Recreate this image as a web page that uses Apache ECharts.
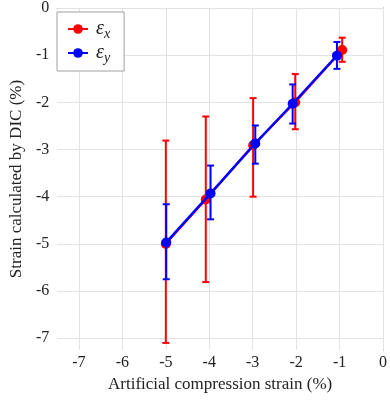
<!DOCTYPE html>
<html>
<head>
<meta charset="utf-8">
<script src="https://cdn.jsdelivr.net/npm/echarts@6/dist/echarts.min.js"></script>
<style>
  html, body { margin: 0; padding: 0; background: #fff; }
  #chart { width: 390px; height: 407px; }
</style>
</head>
<body>
<div id="chart"></div>
<script>
// values
const xTicks = [-7, -6, -5, -4, -3, -2, -1, 0];
const yTicks = [0, -1, -2, -3, -4, -5, -6, -7];

const redX    = [-5.0, -4.08, -2.99, -2.02, -0.94];
const redY    = [-5.0, -4.06, -2.91, -2.0, -0.89];
const redLow  = [-7.10, -5.81, -4.0, -2.57, -1.14];
const redHigh = [-2.81, -2.30, -1.91, -1.40, -0.63];

const blueX    = [-4.99, -3.97, -2.94, -2.08, -1.06];
const blueY    = [-4.97, -3.93, -2.87, -2.03, -1.01];
const blueLow  = [-5.75, -4.48, -3.30, -2.45, -1.29];
const blueHigh = [-4.16, -3.34, -2.49, -1.62, -0.72];

const RED = '#ff0000';
const BLUE = '#0000ff';
const SERIF = '"Liberation Serif", "DejaVu Serif", serif';
const GRID = '#e3e3e3';

function errorBars(xs, lows, highs, color, width, z) {
  return {
    type: 'custom',
    silent: true,
    z,
    data: xs.map((x, i) => [x, lows[i], highs[i]]),
    renderItem(params, api) {
      const lo = api.coord([api.value(0), api.value(1)]);
      const hi = api.coord([api.value(0), api.value(2)]);
      const cap = 3.5;
      const style = { stroke: color, lineWidth: width };
      return {
        type: 'group',
        children: [
          { type: 'line', shape: { x1: lo[0], y1: lo[1], x2: hi[0], y2: hi[1] }, style },
          { type: 'line', shape: { x1: lo[0] - cap, y1: lo[1], x2: lo[0] + cap, y2: lo[1] }, style },
          { type: 'line', shape: { x1: hi[0] - cap, y1: hi[1], x2: hi[0] + cap, y2: hi[1] }, style },
        ],
      };
    },
  };
}

const chart = echarts.init(document.getElementById('chart'));
chart.setOption({
  animation: false,
  backgroundColor: '#fff',
  grid: { left: 48, right: 5, top: 7, bottom: 57 },
  legend: {
    left: 57, top: 12,
    orient: 'vertical',
    padding: [7, 14, 6, 10],
    itemGap: 2,
    itemWidth: 20, itemHeight: 12,
    borderColor: '#a0a0a0', borderWidth: 1,
    backgroundColor: '#fff',
    data: ['x', 'y'],
    formatter: (name) => `{e|ε}{s|${name}}`,
    textStyle: {
      rich: {
        e: { fontFamily: SERIF, fontStyle: 'italic', fontSize: 20, color: '#222', padding: [0, 0, 0, 3], height: 20 },
        s: { fontFamily: SERIF, fontStyle: 'italic', fontSize: 14, color: '#222', verticalAlign: 'bottom', padding: [10, 0, 0, 0] },
      },
    },
  },
  xAxis: {
    type: 'value',
    min: -7.5, max: 0,
    name: 'Artificial compression strain (%)',
    nameLocation: 'middle', nameGap: 24,
    nameTextStyle: { fontFamily: SERIF, fontSize: 17, color: '#222' },
    axisLine: { lineStyle: { color: '#808080', width: 1 } },
    axisTick: { show: false },
    axisLabel: { customValues: xTicks, fontFamily: SERIF, fontSize: 16, color: '#222', margin: 5 },
    splitLine: { show: false },
  },
  yAxis: {
    type: 'value',
    min: -7.25, max: 0,
    name: 'Strain calculated by DIC (%)',
    nameLocation: 'middle', nameGap: 27,
    nameTextStyle: { fontFamily: SERIF, fontSize: 17, color: '#222' },
    axisLine: { show: true, lineStyle: { color: '#808080', width: 1 } },
    axisTick: { show: false },
    axisLabel: { customValues: yTicks, fontFamily: SERIF, fontSize: 16, color: '#222', margin: 8 },
    splitLine: { show: false },
  },
  series: [
    {
      // grid lines at the whole-number ticks
      type: 'line', data: [], z: 1, silent: true,
      markLine: {
        z: 1,
        silent: true, symbol: 'none', animation: false,
        label: { show: false },
        lineStyle: { color: GRID, width: 1, type: 'solid' },
        data: [
          ...xTicks.map(v => ({ xAxis: v })),
          ...yTicks.map(v => ({ yAxis: v })),
        ],
      },
    },
    errorBars(redX, redLow, redHigh, RED, 2, 6),
    {
      name: 'x', type: 'line', z: 7,
      data: redX.map((x, i) => [x, redY[i]]),
      symbol: 'circle', symbolSize: 10,
      lineStyle: { color: RED, width: 2 },
      itemStyle: { color: RED },
    },
    {
      name: 'y', type: 'line', z: 8,
      data: blueX.map((x, i) => [x, blueY[i]]),
      symbol: 'circle', symbolSize: 10,
      lineStyle: { color: BLUE, width: 2.5 },
      itemStyle: { color: BLUE },
    },
    errorBars(blueX, blueLow, blueHigh, BLUE, 2, 9),
  ],
});
</script>
</body>
</html>
